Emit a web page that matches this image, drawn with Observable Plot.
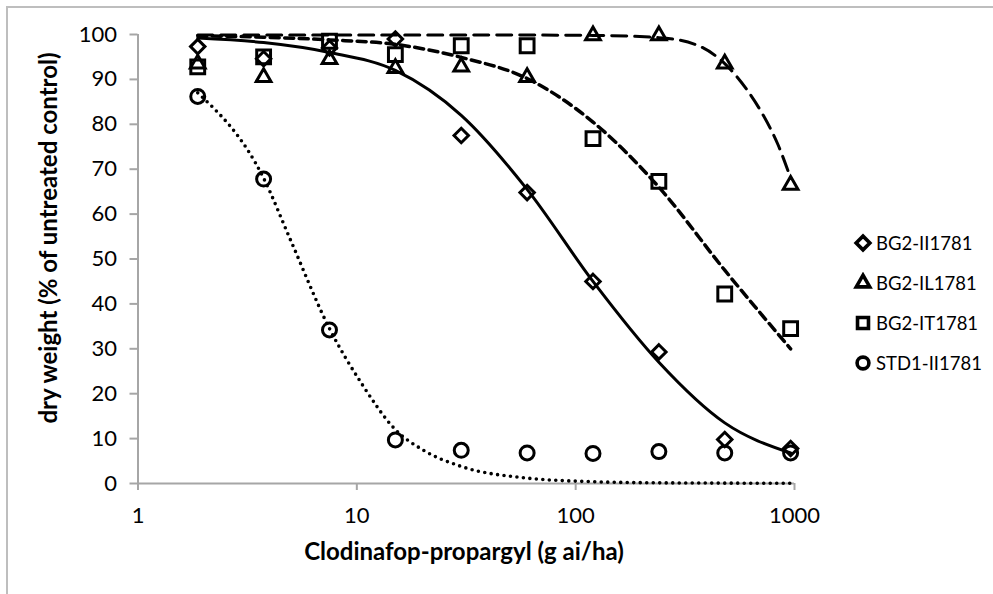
<!DOCTYPE html>
<html><head><meta charset="utf-8">
<script src="https://cdn.jsdelivr.net/npm/d3@7"></script>
<script src="https://cdn.jsdelivr.net/npm/@observablehq/plot@0.6"></script>
<style>
body{margin:0;background:#fff;font-family:Lato,sans-serif;color:#000;}
#wrap{position:relative;width:993px;height:594px;overflow:hidden;background:#fff;}
#frame{position:absolute;left:6px;top:6px;width:1200px;height:1200px;border:2px solid #bebebe;box-sizing:border-box;}
#chart{position:absolute;left:0;top:0;}
.title{position:absolute;font-weight:bold;font-size:24px;white-space:nowrap;line-height:1;}
#xlab{left:464px;top:551px;transform:translate(-50%,-50%);}
#ylab{left:48px;top:238px;transform:translate(-50%,-50%) rotate(-90deg);}
#legend{position:absolute;left:852px;top:223px;}
.row{display:flex;align-items:center;height:40px;font-size:18.5px;}
.row svg{width:22px;height:22px;margin-right:2px;}
</style></head><body>
<div id="wrap"><div id="frame"></div><div id="chart"></div>
<div id="ylab" class="title">dry weight (% of untreated control)</div>
<div id="xlab" class="title">Clodinafop-propargyl (g ai/ha)</div>
<div id="legend"></div></div>
<script>
// ---- data ----
const doses = [1.875, 3.75, 7.5, 15, 30, 60, 120, 240, 480, 960];
const seriesNames = ["BG2-II1781", "BG2-IL1781", "BG2-IT1781", "STD1-II1781"];
const valuesII  = [97.3, 94.6, 97.0, 99.0, 77.5, 64.8, 45.0, 29.3, 9.8, 7.8];
const valuesIL  = [93.5, 90.5, 94.5, 92.5, 92.8, 90.5, 99.8, 99.8, 93.5, 66.5];
const valuesIT  = [92.8, 95.0, 98.5, 95.5, 97.5, 97.5, 76.8, 67.3, 42.2, 34.5];
const valuesSTD = [86.2, 67.8, 34.2, 9.7, 7.4, 6.8, 6.7, 7.1, 6.8, 6.8];

// fitted curves, values
const fitIIDose  = [1.875, 3.75, 7.5, 15, 30, 60, 120, 240, 480, 960];
const fitIIValue = [99.2, 98.2, 96.0, 92.0, 82.0, 65.5, 45.0, 27.0, 13.5, 6.8];
const fitILDose  = [1.875, 30, 120, 240, 360, 480, 600, 720, 840, 960];
const fitILValue = [99.9, 99.9, 99.8, 99.3, 97.6, 93.5, 88.0, 82.0, 75.5, 68.0];
const fitITDose  = [1.875, 3.75, 7.5, 15, 30, 60, 120, 240, 480, 960];
const fitITValue = [99.7, 99.4, 98.8, 97.8, 94.9, 90.2, 80.5, 66.0, 47.5, 30.0];
const fitSTDDose  = [1.875, 3.75, 5, 7.5, 10.6, 15, 20, 30, 60, 120, 240, 960];
const fitSTDValue = [87.0, 68.0, 54.0, 34.5, 22.0, 12.0, 7.5, 3.8, 1.2, 0.4, 0.15, 0.05];

const xTicks = [1, 10, 100, 1000];
const yTicks = [0, 10, 20, 30, 40, 50, 60, 70, 80, 90, 100];

// ---- tables ----
const pts = (vals) => doses.map((d, i) => ({dose: d, value: vals[i]}));
const fit = (ds, vs) => ds.map((d, i) => ({dose: d, value: vs[i]}));

const chart = Plot.plot({
  width: 993, height: 594,
  marginLeft: 137.5, marginRight: 199, marginTop: 34, marginBottom: 111,
  x: {type: "log", domain: [1, 1000]},
  y: {domain: [0, 100]},
  style: {fontFamily: "Lato, sans-serif", fontSize: "22px", color: "#000", background: "transparent"},
  marks: [
    Plot.ruleY([0], {stroke: "#a6a6a6", strokeWidth: 2}),
    Plot.ruleX([1], {stroke: "#a6a6a6", strokeWidth: 2}),
    Plot.axisY({ticks: yTicks, tickSize: 8, tickPadding: 13, stroke: "#a6a6a6", strokeWidth: 2, fill: "#000", label: null, fontSize: 22}),
    Plot.axisX({ticks: xTicks, tickFormat: d => String(d), tickSize: 7, tickPadding: 17, stroke: "#a6a6a6", strokeWidth: 2, fill: "#000", label: null, fontSize: 22}),
    Plot.line(fit(fitSTDDose, fitSTDValue), {x: "dose", y: "value", curve: "monotone-x", stroke: "#000", strokeWidth: 3.6, strokeDasharray: "0 6.5", strokeLinecap: "round"}),
    Plot.line(fit(fitIIDose, fitIIValue), {x: "dose", y: "value", curve: "monotone-x", stroke: "#000", strokeWidth: 3}),
    Plot.line(fit(fitITDose, fitITValue), {x: "dose", y: "value", curve: "monotone-x", stroke: "#000", strokeWidth: 3.5, strokeDasharray: "9 5.5"}),
    Plot.line(fit(fitILDose, fitILValue), {x: "dose", y: "value", curve: "monotone-x", stroke: "#000", strokeWidth: 3, strokeDasharray: "15 8"}),
    Plot.dot(pts(valuesIT), {x: "dose", y: "value", symbol: "square", r: 7.8, stroke: "#000", strokeWidth: 3, fill: "none"}),
    Plot.dot(pts(valuesIL), {x: "dose", y: "value", symbol: "triangle2", r: 7, stroke: "#000", strokeWidth: 3, fill: "none", strokeLinejoin: "miter"}),
    Plot.dot(pts(valuesII), {x: "dose", y: "value", symbol: "diamond2", r: 6.5, stroke: "#000", strokeWidth: 3, fill: "none", strokeLinejoin: "miter"}),
    Plot.dot(pts(valuesSTD), {x: "dose", y: "value", symbol: "circle", r: 7, stroke: "#000", strokeWidth: 3, fill: "none"})
  ]
});
document.getElementById("chart").appendChild(chart);

// ---- legend ----
const legendSymbols = [d3.symbolDiamond2, d3.symbolTriangle2, d3.symbolSquare, d3.symbolCircle];
const legendSizes = [120, 130, 120, 110];
const leg = document.getElementById("legend");
seriesNames.forEach((name, i) => {
  const row = document.createElement("div");
  row.className = "row";
  const path = d3.symbol(legendSymbols[i], legendSizes[i])();
  row.innerHTML = `<svg viewBox="-11 -11 22 22"><path d="${path}" fill="none" stroke="#000" stroke-width="3.6" stroke-linejoin="miter"/></svg><span>${name}</span>`;
  leg.appendChild(row);
});
</script>
</body></html>
